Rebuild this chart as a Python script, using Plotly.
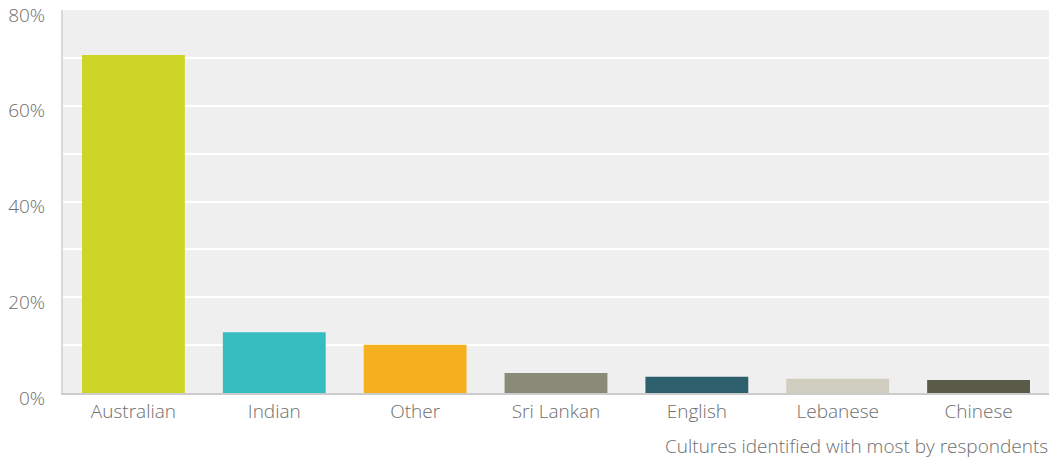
import plotly.graph_objects as go

# Share of respondents by the culture they identify with most
cultures = ["Australian", "Indian", "Other", "Sri Lankan", "English", "Lebanese", "Chinese"]
shares = [70.6, 12.7, 10.1, 4.2, 3.4, 3.0, 2.7]
bar_colors = ["#cfd527", "#34bcbf", "#f5b01f", "#8a8a78", "#2e5f6c", "#cfcebf", "#5a5a48"]

y_tick_values = [0, 10, 20, 30, 40, 50, 60, 70, 80]
y_tick_labels = ["0%", "", "20%", "", "40%", "", "60%", "", "80%"]

axis_title = "Cultures identified with most by respondents"

font_family = "'Open Sans', Lato, sans-serif"
text_color = "#6e6e6e"
label_font = dict(family=font_family, size=19, color=text_color, weight=300)

fig = go.Figure(
    go.Bar(
        x=cultures,
        y=shares,
        marker=dict(color=bar_colors, line=dict(width=0)),
        hoverinfo="x+y",
    )
)

fig.update_layout(
    width=1053,
    height=459,
    margin=dict(l=63, r=4, t=10, b=66, autoexpand=False),
    paper_bgcolor="white",
    plot_bgcolor="#efefef",
    bargap=0.27,
    showlegend=False,
    font=label_font,
)

fig.update_xaxes(
    showgrid=False,
    showline=True,
    linecolor="#cccccc",
    linewidth=2,
    ticks="",
    tickfont=label_font,
    ticklabelstandoff=0,
    automargin=False,
)

fig.update_yaxes(
    range=[0, 80],
    tickvals=y_tick_values,
    ticktext=y_tick_labels,
    showgrid=True,
    gridcolor="white",
    gridwidth=2,
    zeroline=False,
    showline=True,
    linecolor="#d9d9d9",
    linewidth=2,
    ticks="",
    ticklabelstandoff=12,
    ticklabelshift=5,
    ticklabeloverflow="allow",
    automargin=False,
    tickfont=label_font,
)

fig.add_annotation(
    text=axis_title,
    xref="paper",
    yref="paper",
    x=1,
    y=0,
    yshift=-53,
    xanchor="right",
    yanchor="middle",
    showarrow=False,
    borderpad=0,
    font=label_font,
)

fig.write_html("out.html")
